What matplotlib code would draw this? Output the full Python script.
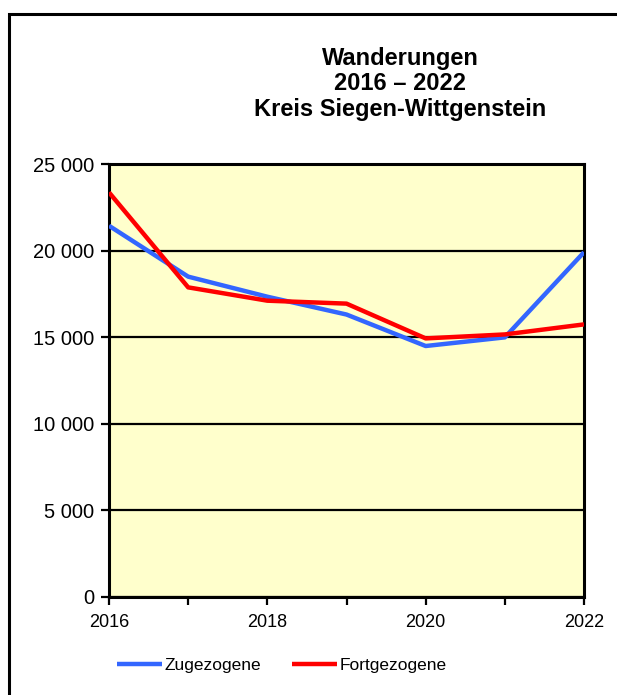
import matplotlib
matplotlib.use("Agg")
import matplotlib.pyplot as plt
from matplotlib.patches import Rectangle
from matplotlib.ticker import FuncFormatter, MultipleLocator

years = [2016, 2017, 2018, 2019, 2020, 2021, 2022]
zugezogene = [21430, 18490, 17330, 16300, 14480, 14980, 19900]
fortgezogene = [23360, 17870, 17100, 16930, 14920, 15150, 15730]

plt.rcParams["font.family"] = ["Liberation Sans", "DejaVu Sans"]

fig = plt.figure(figsize=(6.17, 6.95), dpi=100)
ax = fig.add_axes([0.1767, 0.1417, 0.7698, 0.6223])

# outer chart border (only left/top visible in reference)
fig.patches.append(Rectangle((9 / 617, -0.05), 1.2, 1 - 14 / 695 + 0.05,
                             transform=fig.transFigure, fill=False,
                             edgecolor="black", linewidth=2.2))

ax.set_facecolor("#FFFFCC")
ax.plot(years, zugezogene, color="#3366FF", lw=3.2, label="Zugezogene",
        solid_capstyle="butt", zorder=3)
ax.plot(years, fortgezogene, color="#FF0000", lw=3.2, label="Fortgezogene",
        solid_capstyle="butt", zorder=4)

ax.set_xlim(2016, 2022)
ax.set_ylim(0, 25000)
ax.yaxis.set_major_locator(MultipleLocator(5000))
ax.yaxis.set_major_formatter(FuncFormatter(lambda v, p: f"{int(v):,}".replace(",", " ")))
ax.set_xticks(years)
ax.set_xticklabels([str(y) if (y - 2016) % 2 == 0 else "" for y in years])
ax.grid(axis="y", color="black", lw=1.6)
ax.set_axisbelow(True)
for sp in ax.spines.values():
    sp.set_linewidth(2.2)
ax.tick_params(axis="both", direction="out", length=6, width=1.6)
ax.tick_params(axis="y", labelsize=14.5, pad=4.5)
ax.tick_params(axis="x", labelsize=13, pad=6.5)

fig.text(0.649, 1 - 84 / 695, "Wanderungen\n2016 – 2022\nKreis Siegen-Wittgenstein",
         ha="center", va="center", fontsize=17, fontweight="bold", linespacing=1.15)

fig.legend(loc="center", bbox_to_anchor=(0.457, 1 - 665 / 695), ncol=2,
           frameon=False, fontsize=12.5, handlelength=2.6, handletextpad=0.15,
           columnspacing=1.75)

fig.savefig("out.png", dpi=100)
